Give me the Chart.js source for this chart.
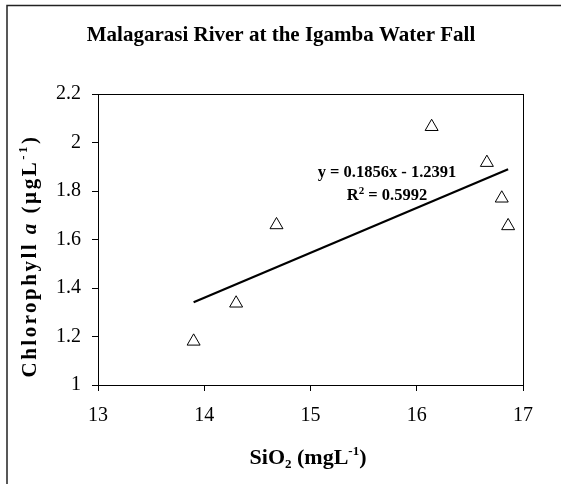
<!DOCTYPE html>
<html>
<head>
<meta charset="utf-8">
<script src="https://cdn.jsdelivr.net/npm/chart.js@4.4.0/dist/chart.umd.min.js"></script>
<style>
  html, body { margin: 0; padding: 0; background: #fff; }
</style>
</head>
<body>
<canvas id="chart" width="561" height="484"></canvas>
<script>
// data
const sio2 = [13.9, 14.3, 14.68, 16.14, 16.66, 16.8, 16.86];
const chlorophyll = [1.18, 1.337, 1.66, 2.065, 1.917, 1.77, 1.656];
const trendX = [13.9, 16.86];
const trendY = [1.341, 1.89];
const xTicks = [13, 14, 15, 16, 17];
const yTicks = [1, 1.2, 1.4, 1.6, 1.8, 2, 2.2];

const chartTitle = "Malagarasi River at the Igamba Water Fall";
const equationText = "y = 0.1856x - 1.2391";
const r2Value = " = 0.5992";
const equationPos = { x: 15.72, y: 1.88 };

const SERIF = '"Liberation Serif", "Times New Roman", serif';

// draw a line of text made of pieces with their own font / vertical shift
function drawRich(ctx, parts, cx, baseline) {
    let total = 0;
    parts.forEach((p) => {
        ctx.font = p.font;
        p.w = ctx.measureText(p.text).width;
        total += p.w;
    });
    let x = cx - total / 2;
    parts.forEach((p) => {
        ctx.font = p.font;
        ctx.fillText(p.text, x, baseline + (p.dy || 0));
        x += p.w;
    });
}

const decorations = {
    id: "decorations",
    afterDraw(chart) {
        const ctx = chart.ctx;
        const area = chart.chartArea;
        const xs = chart.scales.x;
        const ys = chart.scales.y;
        ctx.save();

        // outer frame (only top and left edges visible)
        ctx.strokeStyle = "#222";
        ctx.lineWidth = 1.5;
        ctx.beginPath();
        ctx.moveTo(7, 484);
        ctx.lineTo(7, 5.5);
        ctx.lineTo(561, 5.5);
        ctx.stroke();

        // plot box
        ctx.strokeStyle = "#000";
        ctx.lineWidth = 1;
        const l = Math.round(area.left) + 0.5;
        const t = Math.round(area.top) + 0.5;
        const r = Math.round(area.right) + 0.5;
        const b = Math.round(area.bottom) + 0.5;
        ctx.strokeRect(l, t, r - l, b - t);

        ctx.fillStyle = "#000";
        ctx.textBaseline = "alphabetic";
        ctx.textAlign = "left";

        // title
        drawRich(ctx, [{ text: chartTitle, font: "bold 21px " + SERIF }], 281, 41);

        // x axis title
        const bx = "bold 22px " + SERIF;
        const bxs = "bold 13px " + SERIF;
        drawRich(ctx, [
            { text: "SiO", font: bx },
            { text: "2", font: bxs, dy: 4 },
            { text: " (mgL", font: bx },
            { text: "-1", font: bxs, dy: -9 },
            { text: ")", font: bx },
        ], 308, 464);

        // y axis title (rotated, spaced out like the original)
        const by = "bold 21px " + SERIF;
        const bys = "bold 13px " + SERIF;
        ctx.save();
        ctx.translate(36, 0);
        ctx.rotate(-Math.PI / 2);
        ctx.letterSpacing = "2.5px";
        drawRich(ctx, [
            { text: "Chlorophyll ", font: by },
            { text: "a", font: "italic bold 21px " + SERIF },
            { text: " (\u00b5gL", font: by },
            { text: "-1", font: bys, dy: -9 },
            { text: ")", font: by },
        ], -256, 0);
        ctx.restore();

        // trendline equation
        const ex = xs.getPixelForValue(equationPos.x);
        const ey = ys.getPixelForValue(equationPos.y);
        const ef = "bold 16.5px " + SERIF;
        drawRich(ctx, [{ text: equationText, font: ef }], ex, ey + 5);
        drawRich(ctx, [
            { text: "R", font: ef },
            { text: "2", font: "bold 11px " + SERIF, dy: -6 },
            { text: r2Value, font: ef },
        ], ex, ey + 28);

        ctx.restore();
    },
};

const tickFont = { family: SERIF, size: 20 };

new Chart(document.getElementById("chart"), {
    type: "scatter",
    data: {
        datasets: [
            {
                label: "Chlorophyll a",
                data: sio2.map((x, i) => ({ x, y: chlorophyll[i] })),
                pointStyle: "triangle",
                pointRadius: 7.5,
                backgroundColor: "#fff",
                borderColor: "#000",
                borderWidth: 1,
            },
            {
                type: "line",
                label: "Linear",
                data: trendX.map((x, i) => ({ x, y: trendY[i] })),
                borderColor: "#000",
                borderWidth: 2.2,
                pointRadius: 0,
                fill: false,
            },
        ],
    },
    options: {
        responsive: false,
        animation: false,
        devicePixelRatio: 1,
        layout: { padding: { left: 0, top: 94, right: 38, bottom: 0 } },
        plugins: {
            legend: { display: false },
            tooltip: { enabled: false },
            title: { display: false },
        },
        scales: {
            x: {
                type: "linear",
                min: 13,
                max: 17,
                afterBuildTicks: (scale) => {
                    scale.ticks = xTicks.map((v) => ({ value: v }));
                },
                afterFit: (scale) => {
                    scale.height = 99;
                },
                ticks: { font: tickFont, color: "#000", padding: 13, maxRotation: 0 },
                grid: { drawOnChartArea: false, drawTicks: true, tickLength: 6, color: "#000" },
                border: { display: false },
            },
            y: {
                type: "linear",
                min: 1,
                max: 2.2,
                afterBuildTicks: (scale) => {
                    scale.ticks = yTicks.map((v) => ({ value: v }));
                },
                afterFit: (scale) => {
                    scale.width = 98;
                },
                ticks: {
                    font: tickFont,
                    color: "#000",
                    padding: 11,
                    callback: (v) => String(v),
                },
                grid: { drawOnChartArea: false, drawTicks: true, tickLength: 6, color: "#000" },
                border: { display: false },
            },
        },
    },
    plugins: [decorations],
});
</script>
</body>
</html>
